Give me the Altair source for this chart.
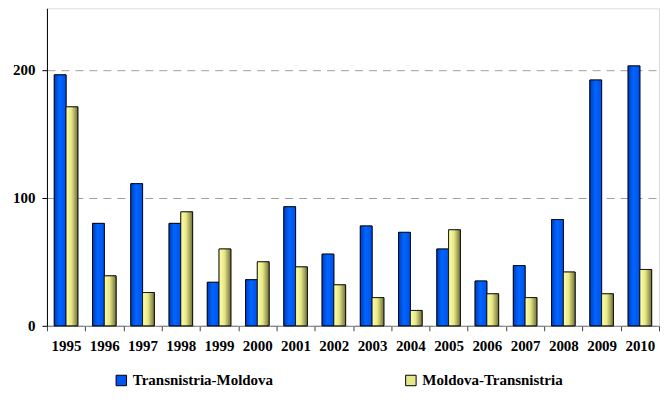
import altair as alt
import pandas as pd

years = [str(y) for y in range(1995, 2011)]
tm = [196, 80, 111, 80, 34, 36, 93, 56, 78, 73, 60, 35, 47, 83, 192, 203]
mt = [171, 39, 26, 89, 60, 50, 46, 32, 22, 12, 75, 25, 22, 42, 25, 44]
series = ["Transnistria-Moldova", "Moldova-Transnistria"]

rows = []
for i, y in enumerate(years):
    rows.append({"year": y, "series": series[0], "value": tm[i]})
    rows.append({"year": y, "series": series[1], "value": mt[i]})
df = pd.DataFrame(rows)

FONT = "Liberation Serif"

x_enc = alt.X("year:N", sort=years, title=None,
              scale=alt.Scale(paddingInner=0, paddingOuter=0),
              axis=alt.Axis(labelAngle=0, labelFont=FONT, labelFontSize=15, labelFontWeight="bold",
                            labelColor="black", labelPadding=8, tickBand="extent",
                            domainColor="#808080", tickColor="#404040", tickSize=5,
                            grid=False))
xo_enc = alt.XOffset("series:N", sort=series,
                     scale=alt.Scale(domain=series, paddingInner=0, paddingOuter=0.625))
y_enc = alt.Y("value:Q", title=None,
              scale=alt.Scale(domain=[0, 248], nice=False),
              axis=alt.Axis(values=[0, 100, 200], labelFont=FONT, labelFontSize=15,
                            labelFontWeight="bold", labelColor="black", labelPadding=7,
                            domainColor="black", tickColor="black", tickSize=5,
                            grid=True, gridDash=[8, 6], gridColor="#A0A0A0"))

base = alt.Chart(df).mark_bar(stroke="black", strokeWidth=0.8).encode(
    x=x_enc, xOffset=xo_enc, y=y_enc,
    color=alt.Color("series:N", sort=series,
                    scale=alt.Scale(domain=series, range=["#0055EE", "#E6E68A"]),
                    legend=alt.Legend(title=None, orient="none", direction="horizontal",
                                      legendX=67, legendY=365, columnPadding=130,
                                      symbolType="square", symbolSize=110,
                                      symbolStrokeColor="black", symbolStrokeWidth=1,
                                      labelFont=FONT, labelFontSize=15, labelFontWeight="bold",
                                      labelColor="black", labelLimit=300, symbolOpacity=1)),
)

blue_grad = alt.LinearGradient(gradient="linear", x1=0, x2=1, y1=0, y2=0, stops=[
    alt.GradientStop(color="#003CC0", offset=0),
    alt.GradientStop(color="#0066FF", offset=0.45),
    alt.GradientStop(color="#0050E8", offset=1)])
yellow_grad = alt.LinearGradient(gradient="linear", x1=0, x2=1, y1=0, y2=0, stops=[
    alt.GradientStop(color="#FFFFA8", offset=0),
    alt.GradientStop(color="#E8E888", offset=0.45),
    alt.GradientStop(color="#70703A", offset=1)])

blue = alt.Chart(df).transform_filter(alt.datum.series == series[0]).mark_bar(
    color=blue_grad, stroke="black", strokeWidth=0.8).encode(x=x_enc, xOffset=xo_enc, y=y_enc)
yellow = alt.Chart(df).transform_filter(alt.datum.series == series[1]).mark_bar(
    color=yellow_grad, stroke="black", strokeWidth=0.8).encode(x=x_enc, xOffset=xo_enc, y=y_enc)

chart = alt.layer(base, blue, yellow).properties(
    width=613, height=318,
    padding={"left": 4, "top": 0, "right": 0, "bottom": 0},
).configure_view(stroke=None).configure(background="white")

chart.save("out.html", embed_options={"renderer": "svg", "actions": False})
